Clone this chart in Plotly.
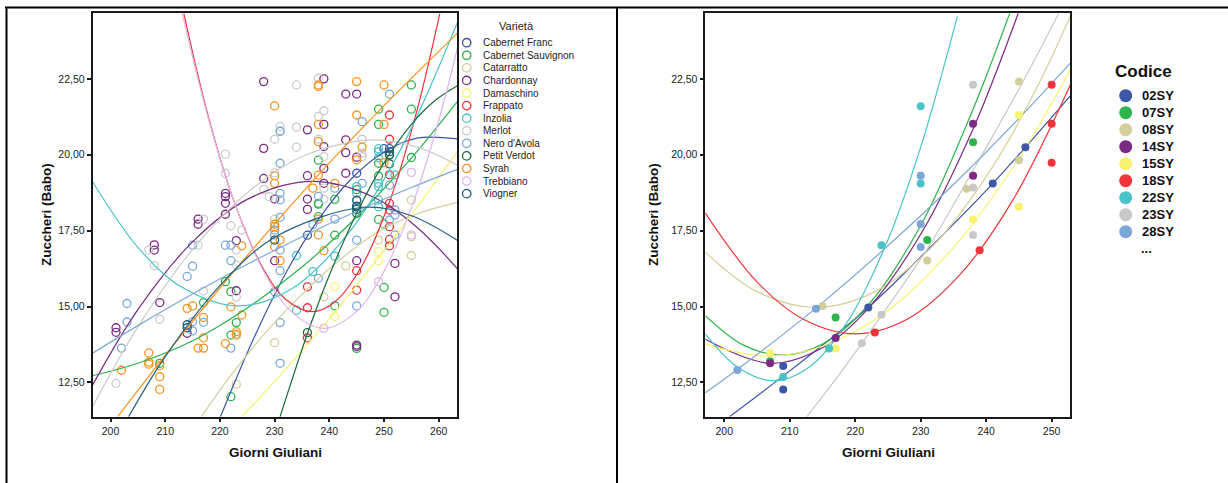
import plotly.graph_objects as go

W, H = 1228, 483
FONT = "Liberation Sans, Arial, sans-serif"

# ---------------- Left panel data (Varietà) ----------------
varieties = ["Cabernet Franc", "Cabernet Sauvignon", "Catarratto", "Chardonnay", "Damaschino",
             "Frappato", "Inzolia", "Merlot", "Nero d'Avola", "Petit Verdot", "Syrah",
             "Trebbiano", "Viogner"]
variety_colors = ["#3b55a8", "#2bb24c", "#d4cf9a", "#7a2a82", "#f8f272", "#ee3338", "#48c4c8",
                  "#cccccc", "#7aa9d9", "#1c6b3a", "#f7931e", "#ddb6f0", "#1f5f7a"]

cf_days = [236, 245, 245, 250, 251, 251]
cf_sugar = [17.35, 19.39, 18.3, 20.2, 20.2, 20.0]

cs_days = [209, 217, 221, 222, 223, 222, 222, 238, 238, 238, 238, 241, 241, 241, 245, 245,
           249, 249, 249, 249, 249, 250, 250, 250, 255, 255, 255]
cs_sugar = [13.13, 15.13, 15.82, 15.49, 14.47, 14.06, 12.03, 19.82, 18.4, 18.37, 17.96, 18.53, 17.35, 15.02,
            18.85, 13.62, 21.5, 21.0, 19.72, 19.3, 17.87, 17.72, 15.63, 14.81, 22.3, 21.5, 19.91]

ct_days = [223, 223, 230, 239, 243, 249, 250, 255, 255, 255]
ct_sugar = [12.44, 14.04, 13.81, 15.32, 16.34, 17.19, 17.7, 18.51, 17.3, 16.68]

ch_days = [201, 201, 208, 208, 209, 214, 216, 216, 221, 221, 221, 221, 223, 223, 228, 228, 228, 230, 230,
           236, 236, 236, 236, 239, 239, 239, 239, 239, 243, 243, 243, 243, 245, 245, 245, 245, 245, 252, 252]
ch_sugar = [14.30, 14.15, 17.03, 16.86, 15.13, 14.12, 17.88, 17.71, 18.73, 18.62, 18.40, 18.04, 17.17, 15.52,
            22.41, 20.21, 19.22, 18.54, 16.51, 20.82, 19.31, 18.54, 18.2, 22.5, 21.0, 20.27, 19.55, 19.06,
            22.0, 20.49, 20.07, 19.39, 22.0, 19.92, 16.51, 13.73, 13.68, 16.42, 15.32]

da_days = [241, 241, 249, 249]
da_sugar = [15.65, 14.67, 16.81, 16.51]

fr_days = [236, 236, 236, 245, 245, 251, 251, 251, 251, 251, 251, 251, 251]
fr_sugar = [15.65, 14.96, 13.97, 16.18, 15.54, 21.31, 20.51, 19.34, 18.4, 18.18, 17.63, 17.21, 17.0]

in_days = [234, 234, 237, 241, 245, 245, 245, 249, 249, 249, 249, 249, 249, 249, 252]
in_sugar = [16.68, 14.88, 16.15, 16.66, 18.95, 18.73, 18.51, 20.2, 20.1, 19.9, 19.06, 18.95, 18.51, 18.29, 19.34]

me_days = [201, 207, 208, 209, 216, 217, 217, 221, 221, 222, 223, 223, 223, 224, 228, 229, 230, 230, 230,
           231, 231, 234, 234, 234, 238, 238, 238, 239, 239, 239, 239, 246, 246, 246]
me_sugar = [12.47, 16.86, 16.35, 14.58, 17.02, 17.88, 15.51, 20.02, 19.39, 17.66, 16.86, 16.37, 15.31, 17.52,
            18.86, 18.62, 20.51, 19.4, 17.88, 20.93, 20.79, 22.30, 20.91, 20.25, 22.52, 21.26, 20.51,
            21.45, 19.94, 18.9, 18.53, 20.51, 20.05, 19.94]

na_days = [202, 203, 203, 214, 215, 215, 215, 215, 217, 221, 222, 222, 222, 230, 230, 230,
           231, 231, 231, 231, 231, 231, 231, 231, 231, 237, 238, 238, 241, 241, 245, 245, 246, 246,
           251, 251, 251, 252, 252, 252]
na_sugar = [13.63, 15.1, 14.49, 15.99, 17.02, 16.33, 14.5, 14.2, 14.48, 17.02, 17.02, 16.51, 13.63, 17.52, 17.36, 15.49,
            20.77, 19.72, 18.73, 18.51, 17.94, 16.86, 16.18, 14.47, 13.13, 17.7, 18.63, 15.93, 18.9, 17.88,
            17.19, 15.02, 21.09, 19.06, 22.0, 19.0, 17.85, 18.18, 18.02, 17.36]

pv_days = [236, 245, 245, 251, 251]
pv_sugar = [14.14, 18.3, 18.07, 19.99, 19.7]

sy_days = [202, 207, 207, 207, 209, 209, 209, 214, 215, 216, 217, 217, 217, 221, 222, 223, 223, 224, 224,
           230, 230, 230, 230, 230, 230, 231, 231, 237, 238, 238, 238, 238, 238, 238, 238, 239, 241,
           245, 245, 245, 246, 250, 250, 250]
sy_sugar = [12.9, 13.47, 13.17, 13.1, 13.05, 12.69, 12.27, 14.94, 15.02, 13.63, 14.64, 13.97, 13.63, 13.78, 14.99,
            14.17, 14.09, 17.0, 14.72, 21.61, 19.31, 19.06, 17.71, 17.63, 16.97, 17.19, 16.51, 18.9, 22.3, 22.25,
            21.0, 20.43, 19.33, 17.88, 17.36, 16.84, 19.06, 22.41, 21.31, 19.83, 20.25, 22.3, 21.0, 19.74]

tr_days = [239, 249, 255, 255]
tr_sugar = [14.28, 15.82, 19.42, 17.36]

vi_days = [214, 214, 230, 245, 245, 245, 251]
vi_sugar = [14.4, 14.3, 17.19, 18.5, 18.3, 18.2, 20.1]

# Quadratic fit lines at several days
cf_fit_x = [220.1, 226, 232, 238, 244, 250, 256, 263.4]
cf_fit_y = [11.37, 13.88, 16.09, 17.86, 19.2, 20.09, 20.55, 20.52]
cs_fit_x = [196.7, 205, 215, 225, 235, 245, 255, 263.4]
cs_fit_y = [12.72, 13.13, 13.87, 14.95, 16.30, 17.95, 19.89, 21.75]
ct_fit_x = [216.6, 222, 229, 235, 241, 249, 256, 263.4]
ct_fit_y = [11.37, 12.73, 14.27, 15.4, 16.4, 17.47, 18.05, 18.43]
ch_fit_x = [196.7, 205, 215, 225, 236.9, 248, 256, 263.4]
ch_fit_y = [12.41, 14.9, 17.13, 18.53, 19.12, 18.61, 17.61, 16.25]
da_fit_x = [224, 232, 240, 248, 256, 263.4]
da_fit_y = [11.37, 12.93, 14.6, 16.38, 18.26, 20.1]
fr_fit_x = [213.4, 218, 223, 228, 232, 236.8, 241, 246, 251, 256, 260.2]
fr_fit_y = [24.65, 21.17, 18.25, 16.22, 15.24, 14.83, 15.15, 16.35, 18.45, 21.44, 24.65]
in_fit_x = [196.7, 205, 213, 223.3, 233, 243, 253, 263.4]
in_fit_y = [19.12, 16.95, 15.64, 15.02, 15.57, 17.3, 20.16, 24.35]
me_fit_x = [196.7, 205, 215, 225, 235, 247.7, 256, 263.4]
me_fit_y = [11.7, 14.33, 16.88, 18.75, 19.94, 20.49, 20.26, 19.66]
na_fit_x = [196.7, 205, 215, 225, 235, 245, 255, 263.4]
na_fit_y = [13.46, 14.37, 15.41, 16.39, 17.30, 18.14, 18.92, 19.52]
pv_fit_x = [231, 236.1, 240, 245, 250, 255, 259, 263.4]
pv_fit_y = [11.37, 14.16, 16.03, 18.07, 19.73, 21.0, 21.74, 22.27]
sy_fit_x = [201.3, 210, 220, 230.1, 240, 250, 263.4]
sy_fit_y = [11.37, 13.39, 15.61, 17.74, 19.73, 21.62, 24.0]
tr_fit_x = [213.1, 218, 223, 228, 233, 239, 245, 250, 255, 260, 263.4]
tr_fit_y = [24.66, 21.12, 18.25, 16.16, 14.84, 14.28, 14.84, 16.16, 18.25, 21.12, 23.5]
vi_fit_x = [203.3, 210, 220, 230, 246.3, 255, 263.4]
vi_fit_y = [11.37, 13.35, 15.69, 17.28, 18.27, 17.99, 17.18]

# ---------------- Right panel data (Codice) ----------------
codes = ["02SY", "07SY", "08SY", "14SY", "15SY", "18SY", "22SY", "23SY", "28SY"]
code_colors = ["#3d57a8", "#2fb34d", "#d4cf9a", "#7a2a82", "#f8f26e", "#ee3339", "#49c3c7", "#c8c8c8", "#7ba7d7"]

c02_days = [209, 209, 222, 241, 246]
c02_sugar = [13.04, 12.27, 14.97, 19.05, 20.25]
c07_days = [207, 217, 231, 238]
c07_sugar = [13.20, 14.64, 17.19, 20.41]
c08_days = [215, 231, 237, 245, 245]
c08_sugar = [15.02, 16.52, 18.88, 19.82, 22.41]
c14_days = [207, 217, 238, 238]
c14_sugar = [13.13, 13.96, 19.31, 21.02]
c15_days = [207, 217, 238, 245, 245]
c15_sugar = [13.46, 13.62, 17.87, 18.29, 21.31]
c18_days = [223, 239, 250, 250, 250]
c18_sugar = [14.14, 16.85, 19.74, 21.02, 22.31]
c22_days = [209, 216, 224, 230, 230]
c22_sugar = [12.68, 13.62, 17.02, 19.05, 21.6]
c23_days = [221, 224, 238, 238, 238]
c23_sugar = [13.79, 14.73, 17.36, 18.92, 22.31]
c28_days = [202, 214, 230, 230, 230]
c28_sugar = [12.91, 14.93, 17.72, 16.96, 19.31]

c02_fit_x = [200.8, 210, 222, 231, 241, 252.85]
c02_fit_y = [11.37, 12.88, 14.97, 16.85, 19.05, 21.94]
c07_fit_x = [197.1, 203, 208.8, 215, 222, 230, 238, 243.6]
c07_fit_y = [14.7, 13.72, 13.4, 13.76, 15.05, 17.67, 21.5, 24.66]
c08_fit_x = [197.1, 205, 214, 223, 232, 241, 248, 252.85]
c08_fit_y = [16.79, 15.49, 14.97, 15.49, 17.03, 19.61, 22.32, 24.56]
c14_fit_x = [197.1, 207, 215, 222, 230, 238, 244.9]
c14_fit_y = [13.92, 13.13, 13.64, 14.94, 17.38, 20.85, 24.66]
c15_fit_x = [197.1, 206.5, 215, 225, 235, 245, 252.85]
c15_fit_y = [13.76, 13.37, 13.69, 14.87, 16.94, 19.88, 22.8]
c18_fit_x = [197.1, 205, 212, 220, 228, 236, 244, 252.85]
c18_fit_y = [18.08, 15.81, 14.59, 14.1, 14.59, 16.05, 18.48, 22.3]
c22_fit_x = [197.1, 202, 207.5, 213, 219, 225, 230, 235.6]
c22_fit_y = [14.1, 13.01, 12.55, 13.01, 14.56, 17.2, 20.25, 24.56]
c23_fit_x = [212.6, 218, 224, 231, 238, 245, 251.1]
c23_fit_y = [11.37, 12.89, 14.7, 16.9, 19.48, 22.16, 24.66]
c28_fit_x = [197.1, 201.9, 213.9, 225, 235, 245, 252.85]
c28_fit_y = [12.16, 12.91, 14.93, 17.0, 19.02, 21.2, 23.02]

# tick labels
y_ticks = [12.5, 15.0, 17.5, 20.0, 22.5]
y_tick_text = ["12,50", "15,00", "17,50", "20,00", "22,50"]
x_ticks_left = [200, 210, 220, 230, 240, 250, 260]
x_ticks_right = [200, 210, 220, 230, 240, 250]

left_series = [
    (cf_days, cf_sugar, cf_fit_x, cf_fit_y), (cs_days, cs_sugar, cs_fit_x, cs_fit_y),
    (ct_days, ct_sugar, ct_fit_x, ct_fit_y), (ch_days, ch_sugar, ch_fit_x, ch_fit_y),
    (da_days, da_sugar, da_fit_x, da_fit_y), (fr_days, fr_sugar, fr_fit_x, fr_fit_y),
    (in_days, in_sugar, in_fit_x, in_fit_y), (me_days, me_sugar, me_fit_x, me_fit_y),
    (na_days, na_sugar, na_fit_x, na_fit_y), (pv_days, pv_sugar, pv_fit_x, pv_fit_y),
    (sy_days, sy_sugar, sy_fit_x, sy_fit_y), (tr_days, tr_sugar, tr_fit_x, tr_fit_y),
    (vi_days, vi_sugar, vi_fit_x, vi_fit_y),
]
right_series = [
    (c02_days, c02_sugar, c02_fit_x, c02_fit_y), (c07_days, c07_sugar, c07_fit_x, c07_fit_y),
    (c08_days, c08_sugar, c08_fit_x, c08_fit_y), (c14_days, c14_sugar, c14_fit_x, c14_fit_y),
    (c15_days, c15_sugar, c15_fit_x, c15_fit_y), (c18_days, c18_sugar, c18_fit_x, c18_fit_y),
    (c22_days, c22_sugar, c22_fit_x, c22_fit_y), (c23_days, c23_sugar, c23_fit_x, c23_fit_y),
    (c28_days, c28_sugar, c28_fit_x, c28_fit_y),
]

fig = go.Figure()

# left points
for name, col, (dx, dy, fx, fy) in zip(varieties, variety_colors, left_series):
    fig.add_trace(go.Scatter(x=dx, y=dy, mode="markers", name=name, showlegend=False,
                             marker=dict(symbol="circle-open", size=8, color=col, line=dict(width=1.3, color=col)),
                             xaxis="x", yaxis="y", cliponaxis=True))
for name, col, (dx, dy, fx, fy) in zip(varieties, variety_colors, left_series):
    fig.add_trace(go.Scatter(x=fx, y=fy, mode="lines", showlegend=False,
                             line=dict(color=col, width=1.2, shape="spline", smoothing=1.0),
                             xaxis="x", yaxis="y"))
# right panel
for name, col, (dx, dy, fx, fy) in zip(codes, code_colors, right_series):
    fig.add_trace(go.Scatter(x=fx, y=fy, mode="lines", showlegend=False,
                             line=dict(color=col, width=1.2, shape="spline", smoothing=1.0),
                             xaxis="x2", yaxis="y2"))
for name, col, (dx, dy, fx, fy) in zip(codes, code_colors, right_series):
    fig.add_trace(go.Scatter(x=dx, y=dy, mode="markers", name=name, showlegend=False,
                             marker=dict(symbol="circle", size=8, color=col, line=dict(width=0)),
                             xaxis="x2", yaxis="y2", cliponaxis=True))


def px(x):
    return x / W


def py(y):
    return 1 - y / H


axis_common = dict(showline=True, linecolor="#1a1a1a", linewidth=1.5, mirror=True, ticks="outside",
                   ticklen=4, tickwidth=1.5, tickcolor="#1a1a1a", showgrid=False, zeroline=False,
                   tickfont=dict(family=FONT, size=10.5, color="#222"))

fig.update_layout(
    width=W, height=H, margin=dict(l=0, r=0, t=0, b=0),
    paper_bgcolor="white", plot_bgcolor="white", showlegend=False,
    xaxis=dict(domain=[px(92.5), px(457.3)], range=[196.7, 263.4], tickvals=x_ticks_left,
               anchor="y", **axis_common),
    yaxis=dict(domain=[py(416.7), py(13.3)], range=[11.37, 24.66], tickvals=y_ticks,
               ticktext=y_tick_text, anchor="x", **axis_common),
    xaxis2=dict(domain=[px(705.3), px(1070.3)], range=[197.1, 252.85], tickvals=x_ticks_right,
                anchor="y2", **axis_common),
    yaxis2=dict(domain=[py(416.7), py(13.3)], range=[11.37, 24.66], tickvals=y_ticks,
                ticktext=y_tick_text, anchor="x2", **axis_common),
)

shapes = []
annotations = []
# frame lines
shapes.append(dict(type="line", xref="paper", yref="paper", x0=px(5), x1=1, y0=py(7.5), y1=py(7.5),
                   line=dict(color="black", width=2)))
shapes.append(dict(type="line", xref="paper", yref="paper", x0=px(6.5), x1=px(6.5), y0=0, y1=py(7.5),
                   line=dict(color="black", width=2)))
shapes.append(dict(type="line", xref="paper", yref="paper", x0=px(617), x1=px(617), y0=0, y1=py(7.5),
                   line=dict(color="black", width=2)))


def ann(text, x, y, size, xanchor="center", angle=0, color="#111"):
    annotations.append(dict(text=text, x=px(x), y=py(y), xref="paper", yref="paper", showarrow=False,
                            xanchor=xanchor, yanchor="middle", textangle=angle,
                            font=dict(family=FONT, size=size, color=color)))


# axis titles
for cx in (46, 653):
    ann("<b>Zuccheri (Babo)</b>", cx, 215, 13.5, angle=-90)
for cx in (275, 888):
    ann("<b>Giorni Giuliani</b>", cx, 452, 13.5)

# left legend
ann("Varietà", 516.7, 25.7, 11, color="#222")
for i, (name, col) in enumerate(zip(varieties, variety_colors)):
    yy = 42.7 + i * 12.58
    shapes.append(dict(type="circle", xref="paper", yref="paper", xsizemode="pixel", ysizemode="pixel",
                       xanchor=px(466.7), yanchor=py(yy), x0=-4.2, x1=4.2, y0=-4.2, y1=4.2,
                       line=dict(color=col, width=1.3), fillcolor="rgba(0,0,0,0)"))
    ann(name, 481, yy, 10, xanchor="left", color="#222")

# right legend
ann("<b>Codice</b>", 1143.7, 71, 17)
for i, (name, col) in enumerate(zip(codes, code_colors)):
    yy = 95.7 + i * 17
    shapes.append(dict(type="circle", xref="paper", yref="paper", xsizemode="pixel", ysizemode="pixel",
                       xanchor=px(1125.7), yanchor=py(yy), x0=-6.5, x1=6.5, y0=-6.5, y1=6.5,
                       line=dict(width=0), fillcolor=col))
    ann(f"<b>{name}</b>", 1140, yy, 13, xanchor="left")
ann("<b>...</b>", 1146, 248, 13)

fig.update_layout(shapes=shapes, annotations=annotations)
fig.write_html("out.html", config={"displayModeBar": False},
               post_script="document.body.style.margin='0';document.body.style.overflow='hidden';")
